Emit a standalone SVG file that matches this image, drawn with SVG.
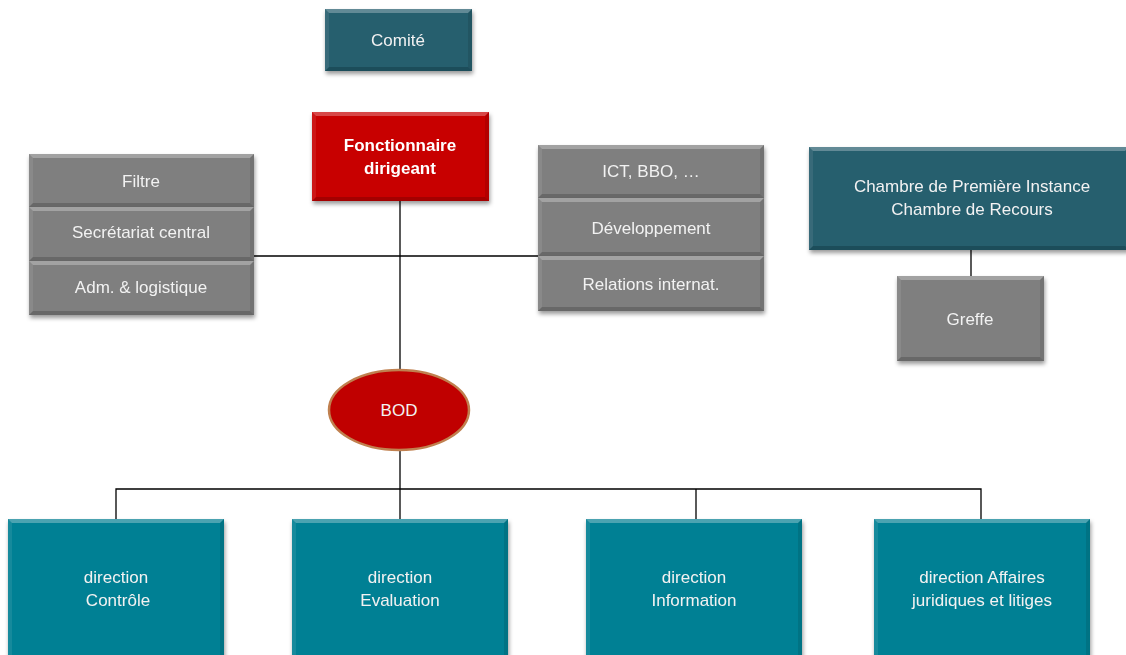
<svg xmlns="http://www.w3.org/2000/svg" width="1126" height="655" viewBox="0 0 1126 655">
<defs>
<filter id="sh" x="-10%" y="-10%" width="125%" height="130%">
<feDropShadow dx="1" dy="3" stdDeviation="2" flood-color="#000" flood-opacity="0.4"/>
</filter>
</defs>
<style>
.teal{fill:#265E6E}
.red{fill:#C80000}
.gray{fill:#7F7F7F}
.cyan{fill:#068094}
.bt{fill:#fff;fill-opacity:0.28}
.bb{fill:#000;fill-opacity:0.18}
.bl{fill:#fff;fill-opacity:0.08}
.br{fill:#000;fill-opacity:0.1}
text{font-family:"Liberation Sans",Arial,sans-serif;font-size:17px;fill:#F2F2F2;text-anchor:middle}
.bold{font-weight:bold;fill:#fff}
.ln{stroke:#000;stroke-width:1.3;fill:none}
</style>
<g id="connectors">
<path class="ln" d="M400 201 V370"/>
<path class="ln" d="M254 256 H538"/>
<path class="ln" d="M400 450 V519"/>
<path class="ln" d="M116 519 V489 H981 V519"/>
<path class="ln" d="M696 489 V519"/>
<path class="ln" d="M971 250 V276"/>
</g>
<g id="comite" filter="url(#sh)">
<rect class="teal" x="325" y="9" width="147" height="62"/>
<polygon class="bt" points="325,9 472,9 468,13 329,13"/>
<polygon class="bb" points="325,71 472,71 468,67 329,67"/>
<polygon class="bl" points="325,9 329,13 329,67 325,71"/>
<polygon class="br" points="472,9 468,13 468,67 472,71"/>
<text x="398" y="46">Comité</text>
</g>
<g id="fonctionnaire" filter="url(#sh)">
<rect class="red" x="312" y="112" width="177" height="89"/>
<polygon class="bt" points="312,112 489,112 485,116 316,116"/>
<polygon class="bb" points="312,201 489,201 485,197 316,197"/>
<polygon class="bl" points="312,112 316,116 316,197 312,201"/>
<polygon class="br" points="489,112 485,116 485,197 489,201"/>
<text class="bold" x="400" y="151">Fonctionnaire</text>
<text class="bold" x="400" y="174">dirigeant</text>
</g>
<g id="filtre" filter="url(#sh)">
<rect class="gray" x="29" y="154" width="225" height="53"/>
<polygon class="bt" points="29,154 254,154 250,158 33,158"/>
<polygon class="bb" points="29,207 254,207 250,203 33,203"/>
<polygon class="bl" points="29,154 33,158 33,203 29,207"/>
<polygon class="br" points="254,154 250,158 250,203 254,207"/>
<text x="141" y="187">Filtre</text>
</g>
<g id="secretariat" filter="url(#sh)">
<rect class="gray" x="29" y="207" width="225" height="54"/>
<polygon class="bt" points="29,207 254,207 250,211 33,211"/>
<polygon class="bb" points="29,261 254,261 250,257 33,257"/>
<polygon class="bl" points="29,207 33,211 33,257 29,261"/>
<polygon class="br" points="254,207 250,211 250,257 254,261"/>
<text x="141" y="238">Secrétariat central</text>
</g>
<g id="adm" filter="url(#sh)">
<rect class="gray" x="29" y="261" width="225" height="54"/>
<polygon class="bt" points="29,261 254,261 250,265 33,265"/>
<polygon class="bb" points="29,315 254,315 250,311 33,311"/>
<polygon class="bl" points="29,261 33,265 33,311 29,315"/>
<polygon class="br" points="254,261 250,265 250,311 254,315"/>
<text x="141" y="293">Adm. &amp; logistique</text>
</g>
<g id="ict" filter="url(#sh)">
<rect class="gray" x="538" y="145" width="226" height="53"/>
<polygon class="bt" points="538,145 764,145 760,149 542,149"/>
<polygon class="bb" points="538,198 764,198 760,194 542,194"/>
<polygon class="bl" points="538,145 542,149 542,194 538,198"/>
<polygon class="br" points="764,145 760,149 760,194 764,198"/>
<text x="651" y="177">ICT, BBO, …</text>
</g>
<g id="developpement" filter="url(#sh)">
<rect class="gray" x="538" y="198" width="226" height="58"/>
<polygon class="bt" points="538,198 764,198 760,202 542,202"/>
<polygon class="bb" points="538,256 764,256 760,252 542,252"/>
<polygon class="bl" points="538,198 542,202 542,252 538,256"/>
<polygon class="br" points="764,198 760,202 760,252 764,256"/>
<text x="651" y="234">Développement</text>
</g>
<g id="relations" filter="url(#sh)">
<rect class="gray" x="538" y="256" width="226" height="55"/>
<polygon class="bt" points="538,256 764,256 760,260 542,260"/>
<polygon class="bb" points="538,311 764,311 760,307 542,307"/>
<polygon class="bl" points="538,256 542,260 542,307 538,311"/>
<polygon class="br" points="764,256 760,260 760,307 764,311"/>
<text x="651" y="290">Relations internat.</text>
</g>
<g id="chambre" filter="url(#sh)">
<rect class="teal" x="809" y="147" width="320" height="103"/>
<polygon class="bt" points="809,147 1129,147 1125,151 813,151"/>
<polygon class="bb" points="809,250 1129,250 1125,246 813,246"/>
<polygon class="bl" points="809,147 813,151 813,246 809,250"/>
<text x="972" y="192">Chambre de Première Instance</text>
<text x="972" y="215">Chambre de Recours</text>
</g>
<g id="greffe" filter="url(#sh)">
<rect class="gray" x="897" y="276" width="147" height="85"/>
<polygon class="bt" points="897,276 1044,276 1040,280 901,280"/>
<polygon class="bb" points="897,361 1044,361 1040,357 901,357"/>
<polygon class="bl" points="897,276 901,280 901,357 897,361"/>
<polygon class="br" points="1044,276 1040,280 1040,357 1044,361"/>
<text x="970" y="325">Greffe</text>
</g>
<g id="bod">
<ellipse cx="399" cy="410" rx="70" ry="40" fill="#C00000" stroke="#C0804F" stroke-width="2.5"/>
<text x="399" y="416">BOD</text>
</g>
<g id="controle" filter="url(#sh)">
<rect class="cyan" x="8" y="519" width="216" height="140"/>
<polygon class="bt" points="8,519 224,519 220,523 12,523"/>
<polygon class="bl" points="8,519 12,523 12,659 8,659"/>
<polygon class="br" points="224,519 220,523 220,659 224,659"/>
<text x="116" y="583">direction</text>
<text x="118" y="606">Contrôle</text>
</g>
<g id="evaluation" filter="url(#sh)">
<rect class="cyan" x="292" y="519" width="216" height="140"/>
<polygon class="bt" points="292,519 508,519 504,523 296,523"/>
<polygon class="bl" points="292,519 296,523 296,659 292,659"/>
<polygon class="br" points="508,519 504,523 504,659 508,659"/>
<text x="400" y="583">direction</text>
<text x="400" y="606">Evaluation</text>
</g>
<g id="information" filter="url(#sh)">
<rect class="cyan" x="586" y="519" width="216" height="140"/>
<polygon class="bt" points="586,519 802,519 798,523 590,523"/>
<polygon class="bl" points="586,519 590,523 590,659 586,659"/>
<polygon class="br" points="802,519 798,523 798,659 802,659"/>
<text x="694" y="583">direction</text>
<text x="694" y="606">Information</text>
</g>
<g id="juridique" filter="url(#sh)">
<rect class="cyan" x="874" y="519" width="216" height="140"/>
<polygon class="bt" points="874,519 1090,519 1086,523 878,523"/>
<polygon class="bl" points="874,519 878,523 878,659 874,659"/>
<polygon class="br" points="1090,519 1086,523 1086,659 1090,659"/>
<text x="982" y="583">direction Affaires</text>
<text x="982" y="606">juridiques et litiges</text>
</g>
</svg>
